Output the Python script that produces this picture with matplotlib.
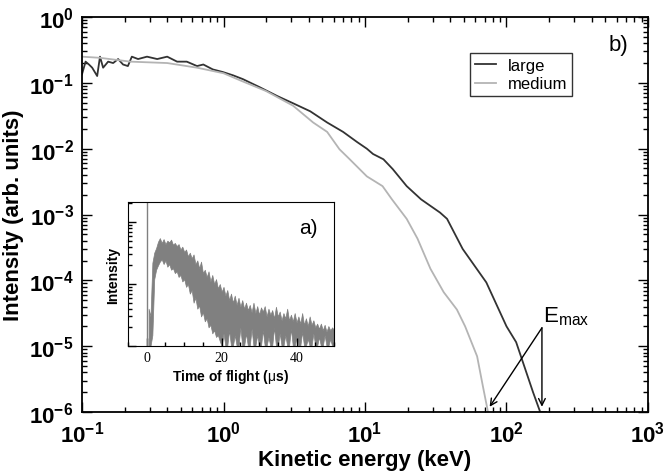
import numpy as np
import matplotlib
matplotlib.use("Agg")
import matplotlib.pyplot as plt
from matplotlib.ticker import LogLocator, FuncFormatter, NullFormatter, MultipleLocator

plt.rcParams['font.family'] = ['Liberation Sans', 'DejaVu Sans']
plt.rcParams['mathtext.fontset'] = 'custom'
plt.rcParams['mathtext.rm'] = 'Liberation Sans'
plt.rcParams['mathtext.it'] = 'Liberation Sans:italic'
plt.rcParams['mathtext.bf'] = 'Liberation Sans:bold'

# kinetic energy spectra (keV, arb. units)
large_E = [0.100, 0.106, 0.112, 0.118, 0.128, 0.134, 0.141, 0.153, 0.166, 0.180,
           0.195, 0.211, 0.225, 0.249, 0.288, 0.340, 0.400, 0.470, 0.550, 0.650,
           0.720, 0.840, 0.990, 1.17, 1.37, 1.80, 2.40, 3.10, 4.10, 5.40,
           7.00, 8.80, 10.3, 11.4, 13.5, 15.7, 19.7, 24.9, 33.9, 38.0,
           49.0, 72.0, 100.0, 117.0, 154.0, 173.0, 190.0]
large_I = [0.135, 0.21, 0.19, 0.17, 0.127, 0.25, 0.17, 0.21, 0.20, 0.23,
           0.19, 0.18, 0.25, 0.23, 0.25, 0.23, 0.25, 0.21, 0.21, 0.18,
           0.19, 0.16, 0.146, 0.13, 0.114, 0.086, 0.063, 0.049, 0.037, 0.025,
           0.018, 0.0126, 0.010, 0.0083, 0.0069, 0.0049, 0.0027, 0.0017, 0.00107, 0.00086,
           0.00030, 9.3e-5, 2.0e-5, 1.15e-5, 2.0e-6, 1.0e-6, 1.0e-6]

medium_E = [0.100, 0.134, 0.220, 0.400, 0.650, 1.00, 1.30, 2.00, 3.10, 4.30,
            5.40, 6.60, 7.80, 10.3, 13.3, 15.5, 19.7, 23.5, 29.0, 36.0,
            44.6, 51.0, 62.0, 68.0, 74.0]
medium_I = [0.25, 0.24, 0.21, 0.20, 0.17, 0.14, 0.11, 0.075, 0.045, 0.025,
            0.018, 0.0098, 0.0069, 0.0038, 0.0027, 0.0017, 0.00086, 0.00043, 0.00015, 6.6e-5,
            3.6e-5, 2.0e-5, 7.0e-6, 2.5e-6, 1.0e-6]

# time-of-flight inset (us, counts): upper / lower envelope of the noisy trace
tof_t = [0.5, 1.0, 1.5, 2.0, 2.5, 3.0, 3.5, 4.0, 4.5, 5.0,
         5.5, 6.0, 6.5, 7.0, 7.5, 8.0, 8.5, 9.0, 9.5, 10.0,
         10.5, 11.0, 11.5, 12.0, 12.5, 13.0, 13.5, 14.0, 14.5, 15.0,
         15.5, 16.0, 16.5, 17.0, 17.5, 18.0, 18.5, 19.0, 19.5, 20.0,
         20.5, 21.0, 21.5, 22.0, 22.5, 23.0, 23.5, 24.0, 24.5, 25.0,
         25.5, 26.0, 26.5, 27.0, 27.5, 28.0, 28.5, 29.0, 29.5, 30.0,
         30.5, 31.0, 31.5, 32.0, 32.5, 33.0, 33.5, 34.0, 34.5, 35.0,
         35.5, 36.0, 36.5, 37.0, 37.5, 38.0, 38.5, 39.0, 39.5, 40.0,
         40.5, 41.0, 41.5, 42.0, 42.5, 43.0, 43.5, 44.0, 44.5, 45.0,
         45.5, 46.0, 46.5, 47.0, 47.5, 48.0, 48.5, 49.0, 49.5, 50.0]
tof_hi = [4, 3, 22, 32, 38, 48, 55, 46, 53, 44,
          50, 47, 52, 43, 46, 41, 44, 36, 40, 33,
          36, 28, 32, 26, 30, 21, 24, 18, 23, 15,
          17, 13, 16, 11, 14, 10, 12, 8.5, 10, 7.5,
          9, 6.5, 8, 5.5, 7, 5, 6.5, 4.6, 6, 4.3,
          5.5, 4, 5, 3.8, 4.6, 3.5, 5, 3.4, 4.4, 3.2,
          4.2, 3.6, 4.4, 3, 4, 3.2, 3.8, 2.8, 4.3, 3,
          3.6, 2.6, 3.4, 2.8, 4, 2.6, 3.2, 2.5, 3.4, 2.4,
          3.0, 2.3, 3.4, 2.2, 2.8, 2.1, 3.0, 2.2, 2.6, 2.0,
          2.3, 1.9, 2.3, 1.8, 2.2, 1.7, 2.1, 1.8, 2.0, 1.8]
tof_lo = [1, 1, 1.5, 12, 17, 20, 23, 25, 21, 24,
          19, 21, 17, 18, 15, 16, 13, 14, 11, 12,
          9, 10, 7, 8, 5, 6, 4, 4.5, 3, 3.5,
          2.5, 2.8, 2, 2.2, 1.6, 1.8, 1.4, 1.5, 1.2, 1,
          1.6, 1, 1, 1.8, 1, 1, 1.5, 1, 1, 2,
          1, 1, 1.6, 1, 1, 1.9, 1, 1, 1.5, 1,
          1, 1.8, 1, 1, 1.4, 1, 1, 2, 1, 1,
          1.6, 1, 1, 1.5, 1, 1, 1.9, 1, 1, 1.4,
          1, 1, 1.7, 1, 1, 1.3, 1, 1, 1.6, 1,
          1, 1.4, 1, 1, 1.5, 1, 1, 1.3, 1, 1]
spike_t = [0.0]
spike_I = [5000.0]

emax_xy = [(178, 1.2e-6), (76, 1.2e-6)]

fig = plt.figure(figsize=(6.64, 4.77), dpi=100)
ax = fig.add_axes([0.1235, 0.1342, 0.8524, 0.828])

ax.plot(large_E, large_I, color='#333333', lw=1.3, label='large')
ax.plot(medium_E, medium_I, color='#b4b4b4', lw=1.3, label='medium')
ax.set_xscale('log')
ax.set_yscale('log')
ax.set_xlim(0.1, 1000)
ax.set_ylim(1e-6, 1)

fmt = FuncFormatter(lambda v, p: r'$\mathbf{10^{%d}}$' % round(np.log10(v)))
ax.xaxis.set_major_locator(LogLocator(base=10, numticks=10))
ax.yaxis.set_major_locator(LogLocator(base=10, numticks=10))
ax.xaxis.set_minor_locator(LogLocator(base=10, subs=np.arange(2, 10), numticks=20))
ax.yaxis.set_minor_locator(LogLocator(base=10, subs=np.arange(2, 10), numticks=20))
ax.xaxis.set_major_formatter(fmt)
ax.yaxis.set_major_formatter(fmt)
ax.xaxis.set_minor_formatter(NullFormatter())
ax.yaxis.set_minor_formatter(NullFormatter())
ax.tick_params(which='both', direction='in', top=True, right=True, width=1)
ax.tick_params(which='major', length=7, labelsize=16, pad=6)
ax.tick_params(which='minor', length=3.5)
for s in ax.spines.values():
    s.set_linewidth(1.3)

ax.set_xlabel('Kinetic energy (keV)', fontsize=16, fontweight='bold', labelpad=2)
ax.set_ylabel('Intensity (arb. units)', fontsize=16, fontweight='bold', labelpad=4)

leg = ax.legend(loc='upper left', bbox_to_anchor=(0.67, 0.93), fontsize=12,
                handlelength=1.3, handletextpad=0.7, borderpad=0.3,
                labelspacing=0.2, fancybox=False, edgecolor='black')
leg.get_frame().set_linewidth(1.0)

ax.text(0.93, 0.93, 'b)', transform=ax.transAxes, fontsize=16, ha='left', va='center')

ax.text(0.815, 0.245, r'E$_{\rm max}$', transform=ax.transAxes, fontsize=16,
        ha='left', va='center')
for xy in emax_xy:
    ax.annotate('', xy=xy, xytext=(178, 1.9e-5),
                arrowprops=dict(arrowstyle='->', color='black', lw=1.0,
                                mutation_scale=12, shrinkA=0, shrinkB=0))

# inset
ins = fig.add_axes([0.1928, 0.2725, 0.3102, 0.3019])
ins.fill_between(tof_t, tof_lo, tof_hi, color='#808080', lw=0.5, edgecolor='#808080')
ins.vlines(spike_t, 1, spike_I, color='#808080', lw=1.0)
ins.set_yscale('log')
ins.set_xlim(-5, 50)
ins.set_ylim(1, 210)
ins.xaxis.set_major_locator(MultipleLocator(20))
ins.xaxis.set_minor_locator(MultipleLocator(5))
ins.yaxis.set_minor_locator(LogLocator(base=10, subs=np.arange(2, 10), numticks=20))
ins.yaxis.set_major_formatter(NullFormatter())
ins.yaxis.set_minor_formatter(NullFormatter())
ins.tick_params(which='both', direction='in', top=False, right=False, width=1)
ins.tick_params(which='major', length=6, labelsize=10)
ins.tick_params(which='minor', length=3)
for lab in ins.get_xticklabels():
    lab.set_fontfamily('Liberation Serif')
ins.set_xlabel(r'Time of flight ($\mathrm{\mu}$s)', fontsize=10, fontweight='bold', labelpad=2)
ins.set_ylabel('Intensity', fontsize=10, fontweight='bold', labelpad=2)
ins.text(0.83, 0.82, 'a)', transform=ins.transAxes, fontsize=15, ha='left', va='center')

fig.savefig('out.png', dpi=100)
